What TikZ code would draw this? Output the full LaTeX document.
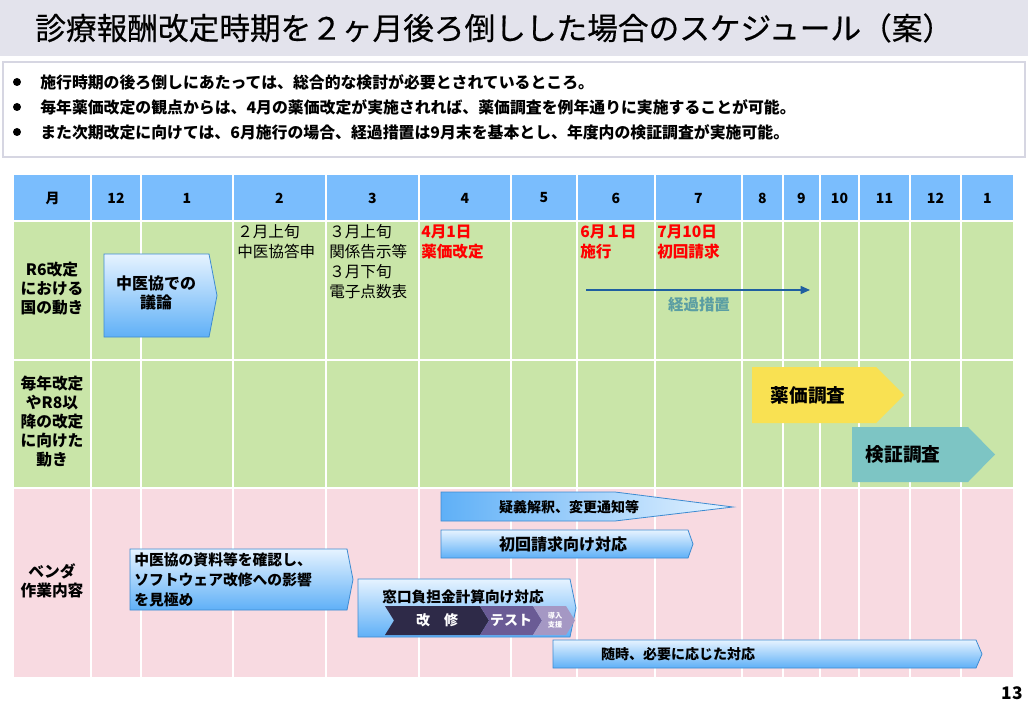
\documentclass[tikz,border=0pt]{standalone}
\usepackage{fontspec}
\setmainfont{Noto Sans CJK JP}
\newfontfamily\titlefont{Noto Sans CJK JP}[FakeBold=0.5]
\usetikzlibrary{arrows.meta}

\definecolor{titlebg}{HTML}{E3E3EC}
\definecolor{frame}{HTML}{D6D6E2}
\definecolor{headblue}{HTML}{7ABDFD}
\definecolor{rowgreen}{HTML}{C9E5A8}
\definecolor{rowpink}{HTML}{F8DAE1}
\definecolor{boxline}{HTML}{3D8BD1}
\definecolor{boxtop}{HTML}{E6F3FF}
\definecolor{boxbot}{HTML}{5FB0F7}
\definecolor{keika}{HTML}{1F5FA0}
\definecolor{keikatext}{HTML}{5A9EA3}
\definecolor{yakka}{HTML}{F9E152}
\definecolor{kensho}{HTML}{7DC5C4}
\definecolor{kaishu}{HTML}{2E2A48}
\definecolor{testcol}{HTML}{6A5B95}
\definecolor{donyu}{HTML}{A598C4}

\begin{document}
\begin{tikzpicture}[x=0.75pt, y=-0.75pt, every node/.style={
	inner sep=0
	,font=\fontsize{11.7}{15}\selectfont
}
	,grid/.style={draw=white, line width=1.5pt}
	,hd/.style={font=\bfseries\fontsize{10.5}{12}\selectfont}
	,bul/.style={anchor=west, font=\bfseries\fontsize{11.9}{14}\selectfont}
	,rowlbl/.style={align=center, font=\bfseries\fontsize{11.8}{14.25}\selectfont}
	,hotdate/.style={anchor=west, align=left, text=red, font=\bfseries\fontsize{11.7}{15}\selectfont}
	,bluebox/.style={draw=boxline, line width=0.6pt, top color=boxtop, bottom color=boxbot}
	,boxtext/.style={font=\bfseries\fontsize{10.5}{12}\selectfont}
	,chev/.style={text=white, font=\bfseries\fontsize{10.5}{12}\selectfont}
]
\useasboundingbox[fill=white] (0,0) rectangle (1028,702);

\fill[titlebg] (0,0) rectangle (1028,56);
\node[anchor=west, font=\titlefont\fontsize{23}{28}\selectfont](title) at(35,28) {診療報酬改定時期を２ヶ月後ろ倒しした場合のスケジュール（案）};

\draw[frame, line width=1.5pt] (3,62) rectangle (1025,157);
\foreach \t [count=\i] in {
	施行時期の後ろ倒しにあたっては、総合的な検討が必要とされているところ。%
	,毎年薬価改定の観点からは、4月の薬価改定が実施されれば、薬価調査を例年通りに実施することが可能。%
	,また次期改定に向けては、6月施行の場合、経過措置は9月末を基本とし、年度内の検証調査が実施可能。%
}{
	\node[circle, fill=black, minimum size=6pt](b\i) at(17,{57+25*\i}) {};
	\node[bul](t\i) at(40,{57+25*\i}) {\t};
}

% table
\fill[headblue] (14,175) rectangle (1014,221);
\fill[rowgreen] (14,221) rectangle (1014,488);
\fill[rowpink] (14,488) rectangle (1014,677);

\foreach \a/\b/\t [count=\i] in {
	14/91/月,91/141/12,141/233/1,233/326/2,326/419/3,419/511/4%
	,511/577/5,577/655/6,655/742/7,742/783/8,783/820/9%
	,820/859/10,859/910/11,910/961/12,961/1014/1%
}{
	\draw[grid] (\b,175) -- (\b,677);
	\node[hd](h\i) at({(\a+\b)/2},198) {\t};
}
\foreach \y in {221,360,488}{
	\draw[grid] (14,\y) -- (1014,\y);
}

\node[rowlbl](r1) at(52,289) {R6改定\\における\\国の動き};
\node[rowlbl](r2) at(52,422) {毎年改定\\やR8以\\降の改定\\に向けた\\動き};
\node[rowlbl](r3) at(52,581) {ベンダ\\作業内容};

% row 1
\node[anchor=west, align=left](feb) at(237,242) {２月上旬\\中医協答申};
\node[anchor=west, align=left](mar) at(329,262) {３月上旬\\関係告示等\\３月下旬\\電子点数表};
\node[hotdate](apr) at(421,242) {4月1日\\薬価改定};
\node[hotdate](jun) at(580,242) {6月１日\\施行};
\node[hotdate](jul) at(657,242) {7月10日\\初回請求};

\coordinate(k0) at(586,290);
\coordinate(k1) at(810,290);
\draw[draw=keika, line width=1.1pt, -{Triangle[length=7pt,width=6pt]}] (k0) -- (k1);
\node[text=keikatext, font=\bfseries\fontsize{11.6}{14}\selectfont](keika) at(699,305) {経過措置};

% row 2
\fill[yakka] (752,367) -- (876,367) -- (904,395) -- (876,423) -- (752,423) -- cycle;
\node[font=\bfseries\fontsize{14}{16}\selectfont](yakka) at(808,395) {薬価調査};
\fill[kensho] (852,427) -- (968,427) -- (995,454.5) -- (968,482) -- (852,482) -- cycle;
\node[font=\bfseries\fontsize{14}{16}\selectfont](kensho) at(903,454.5) {検証調査};

% arrows
\foreach \xa/\xc/\xt/\ya/\yb in {
	104/209/217/254/337,441/688/693/530/558,130/347/353/549/610%
	,358/570/576/579/637,553/976/982/640/668%
}{
	\draw[bluebox] (\xa,\ya) -- (\xc,\ya) -- (\xt,{(\ya+\yb)/2}) -- (\xc,\yb) -- (\xa,\yb) -- cycle;
}
\draw[draw=boxline, line width=0.6pt, left color=boxbot, right color=boxtop]
	(441,492) -- (615,492) -- (733,507) -- (615,521) -- (441,521) -- cycle;

\node[align=center, font=\bfseries\fontsize{12}{14.25}\selectfont](giron) at(156,293) {中医協での\\議論};
\node[boxtext](gigi) at(569,507) {疑義解釈、変更通知等};
\node[boxtext, font=\bfseries\fontsize{12}{14}\selectfont](shokai) at(563,544) {初回請求向け対応};
\node[boxtext, anchor=west, align=left, font=\bfseries\fontsize{11.1}{15}\selectfont](shiryo) at(134,580) {中医協の資料等を確認し、\\ソフトウェア改修への影響\\を見極め};
\node[boxtext, font=\bfseries\fontsize{11}{13}\selectfont](madoguchi) at(463,597) {窓口負担金計算向け対応};
\node[boxtext](zuiji) at(678,654) {随時、必要に応じた対応};

\foreach \xa/\xb/\c in {385/480/kaishu,480/533/testcol,533/566/donyu}{
	\fill[\c] (\xa,606) -- (\xb,606) -- ({\xb+9},620.5) -- (\xb,635) -- (\xa,635) -- ({\xa+9},620.5) -- cycle;
}
\node[chev](kai) at(437,620.5) {改　修};
\node[chev](tst) at(511,620.5) {テスト};
\node[chev, align=center, font=\bfseries\fontsize{5.4}{6.5}\selectfont](dny) at(555,620.5) {導入\\支援};

\node[font=\bfseries\fontsize{13}{15}\selectfont](page) at(1012,693) {13};

\end{tikzpicture}
\end{document}
